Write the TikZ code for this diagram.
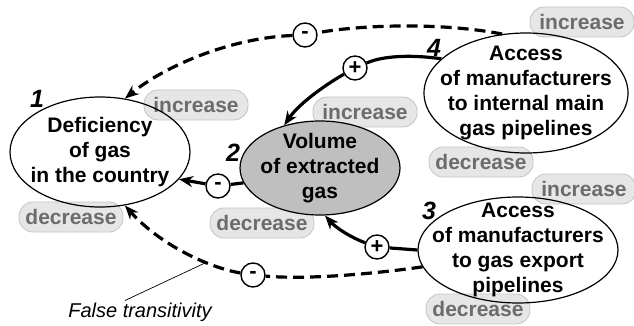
\documentclass[tikz,border=0pt]{standalone}
\usepackage{fontspec}
\setmainfont{Liberation Sans}
\usetikzlibrary{shapes.geometric,arrows.meta}
\definecolor{badgefill}{HTML}{E6E6E6}
\definecolor{badgeline}{HTML}{C4C4C4}
\definecolor{badgetext}{HTML}{6C6C6C}
\definecolor{volfill}{HTML}{BFBFBF}
\begin{document}
\begin{tikzpicture}[x=1pt,y=-1pt,
  concept/.style={ellipse,draw,line width=1.2pt,inner sep=0pt},
  ctext/.style={align=center,inner sep=0pt,font=\fontsize{21}{25}\selectfont\bfseries},
  badge/.style={rounded corners=14pt,draw=badgeline,line width=0.8pt,fill=badgefill,text=badgetext,
    font=\fontsize{21}{24}\selectfont\bfseries,minimum height=30pt,minimum width=104pt,inner xsep=6pt,inner ysep=0pt},
  sign/.style={circle,draw,line width=1.4pt,fill=white,inner sep=0pt,minimum size=24pt,
    font=\fontsize{22}{22}\selectfont\bfseries},
  num/.style={inner sep=0pt,font=\fontsize{25}{25}\selectfont\bfseries\itshape},
  solidline/.style={line width=3.2pt},
  dashline/.style={line width=3.2pt,dash pattern=on 11pt off 6pt},
  arr/.style={-{Stealth[length=14pt,width=11pt]}},
  ]
\useasboundingbox (0,0) rectangle (634,326);

% badges
\node[badge] (b1) at (196,105) {increase};
\node[badge] (b2) at (365,112) {increase};
\node[badge] (b3) at (582,22) {increase};
\node[badge] (b4) at (481,162) {decrease};
\node[badge] (b5) at (584,189) {increase};
\node[badge] (b6) at (478,309) {decrease};
\node[badge] (b7) at (71,217) {decrease};
\node[badge] (b8) at (262,223) {decrease};

% concepts
\node[concept,minimum width=180pt,minimum height=110pt] (e1) at (100,152) {};
\node[concept,fill=volfill,minimum width=160pt,minimum height=94pt] (e2) at (320,168) {};
\node[concept,minimum width=204pt,minimum height=120pt] (e4) at (526,93) {};
\node[concept,minimum width=200pt,minimum height=106pt] (e3) at (518,250) {};

\node[ctext] (t1) at (e1) {Deficiency\\of gas\\in the country};
\node[ctext] (t2) at (e2) {Volume\\of extracted\\gas};
\node[ctext] (t4) at (e4) {Access\\of manufacturers\\to internal main\\gas pipelines};
\node[ctext] (t3) at (e3) {Access\\of manufacturers\\to gas export\\pipelines};

% numbers
\node[num] (n1) at (37,99) {1};
\node[num] (n2) at (233,153) {2};
\node[num] (n4) at (434,48) {4};
\node[num] (n3) at (429,211) {3};

% signs
\node[sign] (m1) at (305,35) {-};
\node[sign] (p1) at (355,68) {+};
\node[sign] (m2) at (218,186) {-};
\node[sign] (p2) at (377,247) {+};
\node[sign] (m3) at (253,275) {-};

% connectors
\draw[dashline] (e4.112) .. controls (440,22) and (360,25) .. (m1);
\draw[dashline,arr] (m1) .. controls (230,38) and (165,66) .. (e1.65);
\draw[solidline] (e4.158) .. controls (415,55) and (385,55) .. (p1);
\draw[solidline,arr] (p1) .. controls (330,82) and (300,102) .. (e2.130);
\draw[solidline] (e2.191) -- (m2);
\draw[solidline,arr] (m2) -- (e1.341);
\draw[solidline] (e3.180) -- (p2);
\draw[solidline,arr] (p2) .. controls (352,238) and (336,228) .. (e2.276);
\draw[dashline] (e3.190) .. controls (380,273) and (310,280) .. (m3);
\draw[dashline,arr] (m3) .. controls (210,268) and (160,245) .. (e1.295);

% false transitivity
\node[inner sep=0pt,font=\fontsize{20}{24}\selectfont\itshape] (ft) at (140,312) {False transitivity};
\coordinate (ftp) at (205,263);
\draw[line width=0.7pt] ([xshift=-15pt,yshift=2pt]ft.north) -- (ftp);
\end{tikzpicture}
\end{document}
